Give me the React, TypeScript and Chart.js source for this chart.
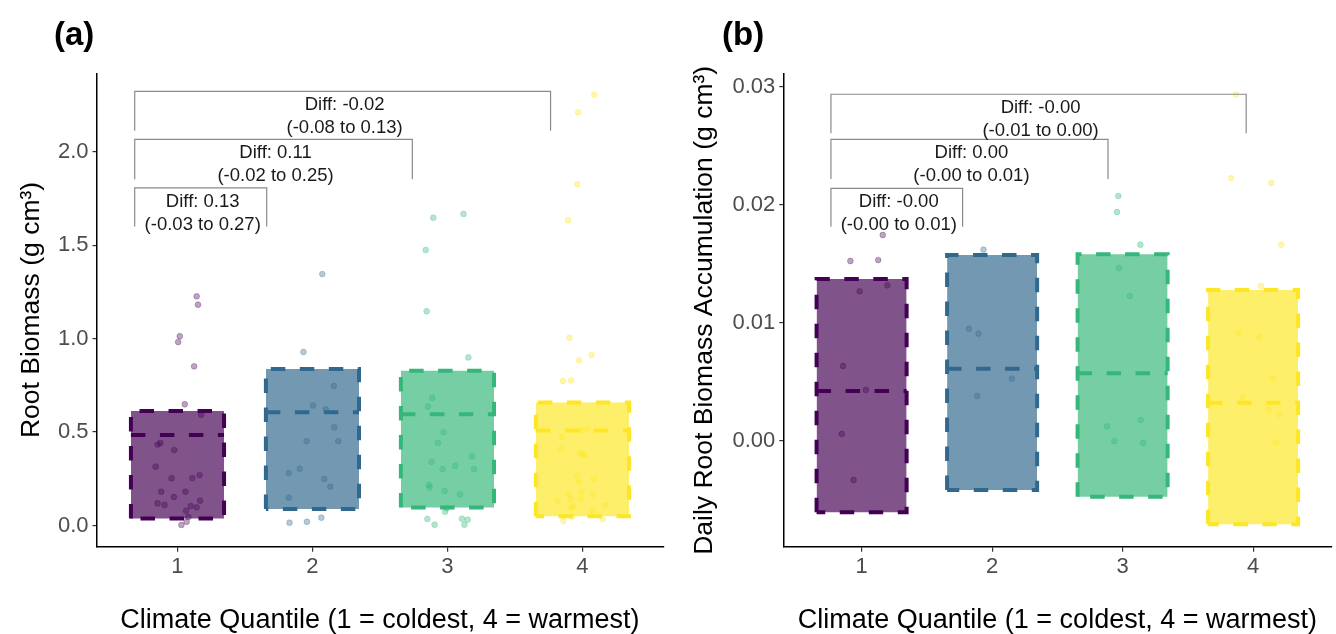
import React, { useEffect, useRef } from "react";
import { Chart, registerables } from "chart.js";

Chart.register(...registerables);

const FONT = "'Liberation Sans', Arial, Helvetica, sans-serif";
Chart.defaults.font.family = FONT;

// ---------- shared ----------
const quantiles = [1, 2, 3, 4];
const quantileColors = ["#440154", "#31688E", "#35B779", "#FDE725"];
const xTitle = "Climate Quantile (1 = coldest, 4 = warmest)";

// ---------- panel (a): Root Biomass ----------
const rootTicks = [0, 0.5, 1, 1.5, 2];
const rootBoxLow = [0.038, 0.088, 0.097, 0.049];
const rootBoxHigh = [0.613, 0.838, 0.829, 0.659];
const rootBoxMid = [0.484, 0.606, 0.595, 0.508];

const rootQ1X = [1.142, 1.152, 1.017, 1.005, 1.123, 1.054, 1.175, 0.873, 0.853, 0.976, 0.838, 0.956, 1.11, 1.164, 0.88, 1.059, 0.973, 0.853, 0.904, 1.167, 1.142, 1.098, 1.064, 1.081, 1.068, 1.029];
const rootQ1Y = [1.227, 1.182, 1.013, 0.982, 0.852, 0.649, 0.593, 0.442, 0.433, 0.404, 0.315, 0.253, 0.254, 0.27, 0.181, 0.181, 0.153, 0.119, 0.11, 0.133, 0.097, 0.104, 0.079, 0.046, 0.02, 0.003];
const rootQ2X = [2.073, 1.933, 2.158, 2.004, 2.099, 2.161, 1.957, 2.191, 1.906, 1.825, 2.088, 2.132, 1.825, 2.066, 1.959, 1.83];
const rootQ2Y = [1.346, 0.929, 0.747, 0.643, 0.622, 0.526, 0.452, 0.452, 0.304, 0.281, 0.249, 0.208, 0.149, 0.042, 0.02, 0.015];
const rootQ3X = [3.119, 2.895, 2.839, 2.846, 3.155, 2.887, 2.856, 2.971, 2.929, 3.182, 2.883, 2.964, 3.057, 3.197, 2.863, 2.868, 2.979, 3.094, 2.996, 2.983, 2.851, 3.108, 3.15, 2.905, 3.126];
const rootQ3Y = [1.668, 1.648, 1.475, 1.147, 0.9, 0.684, 0.636, 0.499, 0.443, 0.37, 0.34, 0.302, 0.319, 0.301, 0.218, 0.204, 0.185, 0.167, 0.092, 0.074, 0.035, 0.036, 0.031, 0.004, 0.004];
const rootQ4X = [4.088, 3.968, 3.962, 3.894, 3.904, 4.068, 3.975, 3.855, 3.916, 4.034, 3.992, 3.848, 3.84, 3.98, 4.017, 3.999, 3.962, 4.085, 3.975, 4.083, 3.897, 3.992, 3.911, 3.988, 3.813, 4.172, 3.931, 3.914, 4.078, 3.859, 4.15, 3.923];
const rootQ4Y = [2.306, 2.212, 1.827, 1.634, 1.005, 0.913, 0.884, 0.774, 0.777, 0.518, 0.508, 0.474, 0.411, 0.39, 0.379, 0.379, 0.267, 0.251, 0.233, 0.167, 0.17, 0.179, 0.14, 0.142, 0.131, 0.106, 0.103, 0.095, 0.083, 0.024, 0.033, 0.047];

const rootBracketLeft = [0.683, 0.683, 0.683];
const rootBracketRight = [1.661, 2.74, 3.764];
const rootBracketTop = [1.807, 2.067, 2.324];
const rootBracketBottom = [1.6, 1.853, 2.113];
const rootDiffLabels = ["Diff: 0.13", "Diff: 0.11", "Diff: -0.02"];
const rootCiLabels = ["(-0.03 to 0.27)", "(-0.02 to 0.25)", "(-0.08 to 0.13)"];

// ---------- panel (b): Daily Root Biomass Accumulation ----------
const dailyTicks = [0, 0.01, 0.02, 0.03];
const dailyBoxLow = [-0.00607, -0.00418, -0.00475, -0.00709];
const dailyBoxHigh = [0.0137, 0.01574, 0.0158, 0.01277];
const dailyBoxMid = [0.00421, 0.0061, 0.00571, 0.00322];

const dailyQ1X = [1.162, 0.914, 1.127, 1.197, 0.985, 0.858, 1.033, 0.848, 0.939];
const dailyQ1Y = [0.01743, 0.01523, 0.01531, 0.01317, 0.01266, 0.00633, 0.0043, 0.00057, -0.00333];
const dailyQ2X = [1.934, 1.822, 1.896, 2.152, 1.886];
const dailyQ2Y = [0.01619, 0.00949, 0.00907, 0.00525, 0.00379];
const dailyQ3X = [2.967, 2.957, 3.136, 2.972, 3.055, 3.139, 2.881, 2.936, 3.157];
const dailyQ3Y = [0.02074, 0.01938, 0.01661, 0.01464, 0.01226, 0.00175, 0.00122, -0.00003, -0.00019];
const dailyQ4X = [3.868, 3.832, 4.139, 4.215, 4.061, 3.886, 4.046, 4.152, 3.918, 4.119, 4.199, 4.176];
const dailyQ4Y = [0.02932, 0.02226, 0.02184, 0.01661, 0.01311, 0.00913, 0.00879, 0.00525, 0.00365, 0.00263, 0.00226, -0.00014];

const dailyBracketLeft = [0.765, 0.765, 0.765];
const dailyBracketRight = [1.774, 2.888, 3.947];
const dailyBracketTop = [0.02139, 0.02554, 0.02936];
const dailyBracketBottom = [0.01814, 0.02218, 0.02605];
const dailyDiffLabels = ["Diff: -0.00", "Diff: 0.00", "Diff: -0.00"];
const dailyCiLabels = ["(-0.00 to 0.01)", "(-0.00 to 0.01)", "(-0.01 to 0.00)"];

// ---------- helpers ----------
const HALF = 0.345;

function rgba(hex: string, a: number) {
  const n = parseInt(hex.slice(1), 16);
  return `rgba(${(n >> 16) & 255},${(n >> 8) & 255},${n & 255},${a})`;
}

type PanelCfg = {
  tag: string;
  padding: { top: number; left: number; right: number; bottom: number };
  yWidth: number;
  xHeight: number;
  yMin: number;
  yMax: number;
  yTicks: number[];
  yDecimals: number;
  yTitle: string;
  yTitlePad: number;
  low: number[];
  high: number[];
  mid: number[];
  px: number[][];
  py: number[][];
  bLeft: number[];
  bRight: number[];
  bTop: number[];
  bBottom: number[];
  diff: string[];
  ci: string[];
};

const W = 668;
const H = 634;

function buildDatasets(c: PanelCfg) {
  const ds: any[] = [];
  quantiles.forEach((q, i) => {
    const L = q - HALF;
    const R = q + HALF;
    const col = quantileColors[i];
    ds.push({
      type: "line",
      data: [
        { x: L, y: c.high[i] },
        { x: R, y: c.high[i] },
      ],
      fill: { value: c.low[i] },
      backgroundColor: rgba(col, 0.68),
      borderColor: "rgba(0,0,0,0)",
      borderWidth: 0,
      pointRadius: 0,
      order: 10,
    });
    ds.push({
      type: "scatter",
      data: c.px[i].map((x, j) => ({ x, y: c.py[i][j] })),
      backgroundColor: rgba(col, 0.36),
      borderColor: rgba(col, 0.45),
      borderWidth: 0.6,
      pointRadius: 2.9,
      order: 8,
    });
    ds.push({
      type: "line",
      data: [
        { x: L, y: c.low[i] },
        { x: L, y: c.high[i] },
        { x: R, y: c.high[i] },
        { x: R, y: c.low[i] },
        { x: L, y: c.low[i] },
      ],
      borderColor: col,
      borderWidth: 4,
      borderDash: [14.5, 14.5],
      borderCapStyle: "butt",
      borderJoinStyle: "miter",
      fill: false,
      pointRadius: 0,
      tension: 0,
      order: 6,
    });
    ds.push({
      type: "line",
      data: [
        { x: L, y: c.mid[i] },
        { x: R, y: c.mid[i] },
      ],
      borderColor: col,
      borderWidth: 4,
      borderDash: [14.5, 14.5],
      fill: false,
      pointRadius: 0,
      order: 5,
    });
  });
  c.bLeft.forEach((l, k) => {
    ds.push({
      type: "line",
      data: [
        { x: l, y: c.bBottom[k] },
        { x: l, y: c.bTop[k] },
        { x: c.bRight[k], y: c.bTop[k] },
        { x: c.bRight[k], y: c.bBottom[k] },
      ],
      borderColor: "#8a8a8a",
      borderWidth: 1.2,
      fill: false,
      pointRadius: 0,
      tension: 0,
      order: 1,
    });
  });
  return ds;
}

function makeChart(canvas: HTMLCanvasElement, c: PanelCfg) {
  const textPlugin = {
    id: "panelText" + c.tag,
    afterDatasetsDraw(chart: any) {
      const ctx = chart.ctx;
      const xs = chart.scales.x;
      const ys = chart.scales.y;
      ctx.save();
      ctx.fillStyle = "#1a1a1a";
      ctx.textAlign = "center";
      ctx.textBaseline = "middle";
      ctx.font = `18.5px ${FONT}`;
      c.bLeft.forEach((l, k) => {
        const cx = (xs.getPixelForValue(l) + xs.getPixelForValue(c.bRight[k])) / 2 + 2;
        const ty = ys.getPixelForValue(c.bTop[k]);
        ctx.fillText(c.diff[k], cx, ty + 14);
        ctx.fillText(c.ci[k], cx, ty + 36.5);
      });
      ctx.fillStyle = "#000";
      ctx.textAlign = "left";
      ctx.font = `bold 33px ${FONT}`;
      ctx.fillText(c.tag, 54, 36);
      ctx.restore();
    },
  };

  return new Chart(canvas, {
    type: "scatter",
    data: { datasets: buildDatasets(c) },
    plugins: [textPlugin],
    options: {
      responsive: false,
      animation: false,
      devicePixelRatio: 1,
      events: [],
      layout: { padding: c.padding },
      plugins: {
        legend: { display: false },
        tooltip: { enabled: false },
        title: { display: false },
      },
      scales: {
        x: {
          type: "linear",
          min: 0.4,
          max: 4.6,
          afterBuildTicks: (s: any) => {
            s.ticks = quantiles.map((v) => ({ value: v }));
          },
          afterFit: (s: any) => {
            s.height = c.xHeight;
          },
          ticks: {
            autoSkip: false,
            maxRotation: 0,
            padding: 2,
            color: "#4D4D4D",
            font: { size: 22 },
            callback: (v: any) => String(v),
          },
          grid: {
            display: true,
            drawOnChartArea: false,
            drawTicks: true,
            tickLength: 5,
            color: "#333333",
            lineWidth: 1.2,
          },
          border: { display: true, color: "#000", width: 1.5 },
          title: {
            display: true,
            text: xTitle,
            color: "#000",
            font: { size: 27, lineHeight: 1 },
            padding: { top: 0, bottom: 0 },
          },
        },
        y: {
          type: "linear",
          min: c.yMin,
          max: c.yMax,
          afterBuildTicks: (s: any) => {
            s.ticks = c.yTicks.map((v) => ({ value: v }));
          },
          afterFit: (s: any) => {
            s.width = c.yWidth;
          },
          ticks: {
            padding: 4,
            color: "#4D4D4D",
            font: { size: 22 },
            callback: (v: any) => Number(v).toFixed(c.yDecimals),
          },
          grid: {
            display: true,
            drawOnChartArea: false,
            drawTicks: true,
            tickLength: 4,
            color: "#333333",
            lineWidth: 1.2,
          },
          border: { display: true, color: "#000", width: 1.5 },
          title: {
            display: true,
            text: c.yTitle,
            color: "#000",
            font: { size: 26.5, lineHeight: 1 },
            padding: { top: c.yTitlePad, bottom: 0 },
          },
        },
      },
    } as any,
  });
}

const panelA: PanelCfg = {
  tag: "(a)",
  padding: { top: 73.3, left: 0, right: 1, bottom: 0 },
  yWidth: 96.5,
  xHeight: H - 546.7,
  yMin: -0.1135,
  yMax: 2.4208,
  yTicks: rootTicks,
  yDecimals: 1,
  yTitle: "Root Biomass (g cm³)",
  yTitlePad: 18,
  low: rootBoxLow,
  high: rootBoxHigh,
  mid: rootBoxMid,
  px: [rootQ1X, rootQ2X, rootQ3X, rootQ4X],
  py: [rootQ1Y, rootQ2Y, rootQ3Y, rootQ4Y],
  bLeft: rootBracketLeft,
  bRight: rootBracketRight,
  bTop: rootBracketTop,
  bBottom: rootBracketBottom,
  diff: rootDiffLabels,
  ci: rootCiLabels,
};

const panelB: PanelCfg = {
  tag: "(b)",
  padding: { top: 74, left: 0, right: 0, bottom: 0 },
  yWidth: 115.3,
  xHeight: H - 546.7,
  yMin: -0.008983,
  yMax: 0.031076,
  yTicks: dailyTicks,
  yDecimals: 2,
  yTitle: "Daily Root Biomass Accumulation (g cm³)",
  yTitlePad: 23,
  low: dailyBoxLow,
  high: dailyBoxHigh,
  mid: dailyBoxMid,
  px: [dailyQ1X, dailyQ2X, dailyQ3X, dailyQ4X],
  py: [dailyQ1Y, dailyQ2Y, dailyQ3Y, dailyQ4Y],
  bLeft: dailyBracketLeft,
  bRight: dailyBracketRight,
  bTop: dailyBracketTop,
  bBottom: dailyBracketBottom,
  diff: dailyDiffLabels,
  ci: dailyCiLabels,
};

function Panel({ cfg }: { cfg: PanelCfg }) {
  const ref = useRef<HTMLCanvasElement | null>(null);
  useEffect(() => {
    if (!ref.current) return;
    const chart = makeChart(ref.current, cfg);
    return () => chart.destroy();
  }, [cfg]);
  return <canvas ref={ref} width={W} height={H} style={{ display: "block", width: W, height: H }} />;
}

export default function App() {
  return (
    <div
      style={{
        position: "fixed",
        left: 0,
        top: 0,
        width: 1336,
        height: 634,
        display: "flex",
        background: "#ffffff",
      }}
    >
      <Panel cfg={panelA} />
      <Panel cfg={panelB} />
    </div>
  );
}
